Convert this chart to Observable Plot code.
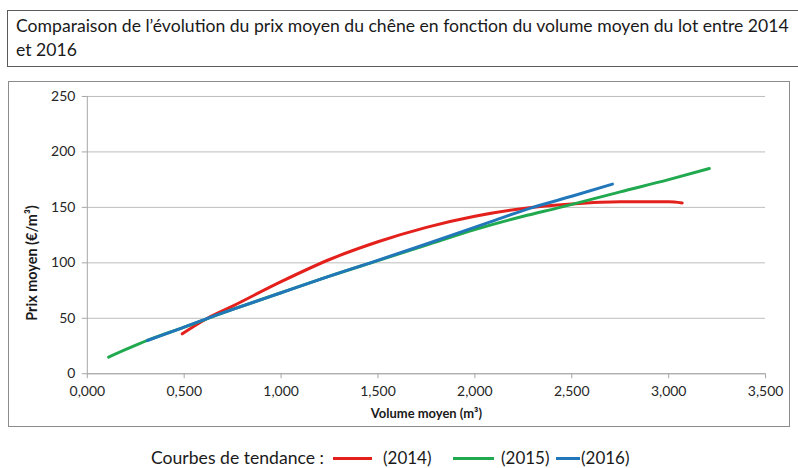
<!DOCTYPE html>
<html>
<head>
<meta charset="utf-8">
<script src="https://cdn.jsdelivr.net/npm/d3@7"></script>
<script src="https://cdn.jsdelivr.net/npm/@observablehq/plot@0.6"></script>
<style>
  html, body { margin: 0; padding: 0; background: #fff; overflow: hidden; }
  #root { position: relative; width: 798px; height: 468px; font-family: Lato, "Open Sans", sans-serif; color: #1a1a1a; }
  #title { position: absolute; left: 7px; top: 10px; width: 820px; height: 57px; border: 1px solid #5a5a5a; box-sizing: border-box;
           font-size: 17.6px; line-height: 24px; padding: 3px 0 0 8px; white-space: nowrap; }
  #chart { position: absolute; left: 8px; top: 81px; }
  #chart svg { border: 1px solid #8c8c8c; box-sizing: border-box; }
  #legend { position: absolute; left: 0; top: 448px; width: 798px; height: 19px; font-size: 17px; white-space: nowrap; line-height: 19px; }
  #legend span { position: absolute; top: 0; }
  #legend .sw { height: 0; border-top: 3px solid; top: 9px; }
</style>
</head>
<body>
<div id="root">
  <div id="title">Comparaison de l’évolution du prix moyen du chêne en fonction du volume moyen du lot entre 2014<br>et 2016</div>
  <div id="chart"></div>
  <div id="legend"></div>
</div>
<script>
// Series (volume moyen en m³, prix moyen en €/m³)
const series = ["(2014)", "(2015)", "(2016)"];
const colors = ["#e3201b", "#21a94f", "#2277bb"];

const x2014 = [0.49, 0.62, 0.75, 1.00, 1.25, 1.50, 1.75, 2.00, 2.25, 2.50, 2.75, 3.00, 3.07];
const y2014 = [36, 50, 61, 83, 103, 119, 132, 142, 149, 153, 155, 155, 154];

const x2015 = [0.11, 0.31, 0.50, 0.75, 1.00, 1.25, 1.50, 1.75, 2.00, 2.25, 2.44, 2.75, 3.00, 3.21];
const y2015 = [15, 30, 42, 58, 73, 88, 102, 116, 130, 142, 150, 164, 175, 185];

const x2016 = [0.31, 0.50, 0.62, 0.75, 1.00, 1.25, 1.46, 1.75, 2.08, 2.30, 2.50, 2.71];
const y2016 = [30, 42, 50, 58, 73, 88, 100, 117, 137, 150, 160, 171];

const xTicks = [0, 0.5, 1, 1.5, 2, 2.5, 3, 3.5];
const xTickLabels = ["0,000", "0,500", "1,000", "1,500", "2,000", "2,500", "3,000", "3,500"];
const yTicks = [0, 50, 100, 150, 200, 250];
const yTickLabels = ["0", "50", "100", "150", "200", "250"];

const xTitle = "Volume moyen (m³)";
const yTitle = "Prix moyen (€/m³)";
const legendLabel = "Courbes de tendance :";

const rows = [];
[[x2014, y2014], [x2015, y2015], [x2016, y2016]].forEach(([xs, ys], k) => {
  xs.forEach((v, i) => rows.push({ serie: series[k], volume: v, prix: ys[i] }));
});

const chart = Plot.plot({
  width: 782,
  height: 345,
  marginLeft: 78,
  marginRight: 24,
  marginTop: 14,
  marginBottom: 53,
  style: { fontFamily: "Lato, 'Open Sans', sans-serif", fontSize: "14px", color: "#262626", background: "#fff" },
  x: { domain: [0, 3.5] },
  y: { domain: [0, 250] },
  color: { domain: series, range: colors },
  marks: [
    Plot.gridY(yTicks, { stroke: "#bdbdbd", strokeOpacity: 1, strokeWidth: 1 }),
    Plot.ruleX([0], { stroke: "#a6a6a6" }),
    Plot.ruleY([0], { stroke: "#a6a6a6" }),
    Plot.axisY(yTicks, { tickSize: 5, tickPadding: 7, stroke: "#a6a6a6", tickFormat: (d, i) => yTickLabels[i], label: null, fontSize: 14 }),
    Plot.axisX(xTicks, { tickSize: 5, tickPadding: 7, stroke: "#a6a6a6", tickFormat: (d, i) => xTickLabels[i], label: null, fontSize: 14 }),
    Plot.line(rows, { x: "volume", y: "prix", z: "serie", stroke: "serie", strokeWidth: 3, curve: "monotone-x", strokeLinecap: "round" }),
    Plot.text([xTitle], { frameAnchor: "bottom", dy: 44, fontWeight: "bold", fontSize: 13, fill: "#1a1a1a" }),
    Plot.text([yTitle], { frameAnchor: "left", textAnchor: "middle", dx: -55, dy: 28, rotate: -90, fontWeight: "bold", fontSize: 14.5, fill: "#1a1a1a" })
  ]
});
document.getElementById("chart").appendChild(chart);

const legend = document.getElementById("legend");
const place = (el, left, width) => { el.style.left = left + "px"; if (width) el.style.width = width + "px"; legend.appendChild(el); };
const lab = document.createElement("span");
lab.textContent = legendLabel;
lab.style.fontSize = "17.6px";
place(lab, 151);
const swLeft = [333, 453, 556];
const swWidth = [39, 41, 24];
const txtLeft = [383, 501, 581];
series.forEach((s, i) => {
  const sw = document.createElement("span");
  sw.className = "sw";
  sw.style.borderTopColor = colors[i];
  place(sw, swLeft[i], swWidth[i]);
  const t = document.createElement("span");
  t.textContent = s;
  place(t, txtLeft[i]);
});
</script>
</body>
</html>
